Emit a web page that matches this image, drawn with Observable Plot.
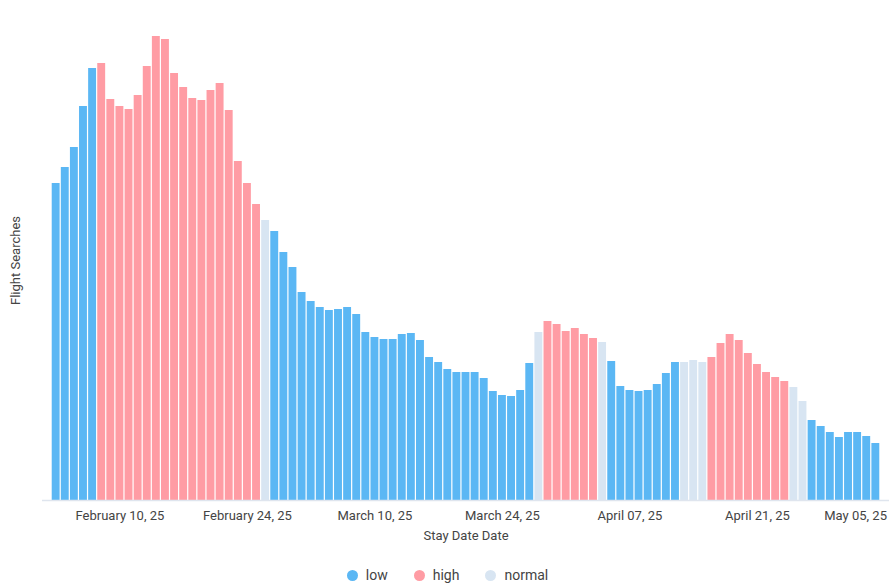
<!DOCTYPE html>
<html>
<head>
<meta charset="utf-8">
<script src="https://cdn.jsdelivr.net/npm/d3@7"></script>
<script src="https://cdn.jsdelivr.net/npm/@observablehq/plot@0.6"></script>
<style>
  html, body { margin: 0; padding: 0; background: #fff; }
  body { width: 889px; height: 586px; overflow: hidden; font-family: Roboto, "Noto Sans", sans-serif; }
  #legend { display: flex; justify-content: center; align-items: center; height: 30px; margin-top: 4px; padding-left: 6px;
            font-family: Roboto, sans-serif; font-size: 14px; color: #444; }
  #legend .item { display: flex; align-items: center; margin: 0 13px; }
  #legend .dot { width: 11px; height: 11px; border-radius: 50%; margin-right: 8px; }
</style>
</head>
<body>
<div id="chart"></div>
<div id="legend"></div>
<script>
// First stay date; one bar per consecutive day
const startDate = "2025-02-03";

// Flight searches per stay date (arbitrary units)
const searches = [
  317, 333, 353, 394, 432, 437, 401, 394, 391, 405,
  434, 464, 461, 427, 413, 402, 400, 410, 417, 390,
  339, 317, 296, 280, 269, 248, 233, 208, 199, 193,
  190, 191, 193, 186, 168, 163, 161, 161, 166, 167,
  160, 143, 138, 131, 128, 128, 128, 122, 109, 105,
  104, 110, 137, 168, 179, 176, 169, 172, 166, 162,
  158, 139, 114, 110, 109, 110, 116, 127, 138, 138,
  140, 138, 143, 157, 166, 160, 147, 136, 128, 123,
  119, 113, 99, 80, 74, 68, 63, 68, 68, 64,
  57
];

// Demand level per stay date
const levels = [
  "low","low","low","low","low",
  "high","high","high","high","high","high","high","high","high",
  "high","high","high","high","high","high","high","high","high",
  "normal",
  "low","low","low","low","low","low","low","low","low","low",
  "low","low","low","low","low","low","low","low","low","low",
  "low","low","low","low","low","low","low","low","low",
  "normal",
  "high","high","high","high","high","high",
  "normal",
  "low","low","low","low","low","low","low","low",
  "normal","normal","normal",
  "high","high","high","high","high","high","high","high","high",
  "normal","normal",
  "low","low","low","low","low","low","low","low"
];

const levelNames = ["low", "high", "normal"];
const levelColors = ["#5bb7f4", "#ff9ca4", "#d8e5f2"];

// Tick labels on the date axis
const tickDates = ["2025-02-10", "2025-02-24", "2025-03-10", "2025-03-24", "2025-04-07", "2025-04-21"];
const lastTickDate = ["2025-05-05"];

const start = d3.utcParse("%Y-%m-%d")(startDate);
const data = searches.map((v, i) => {
  const d = d3.utcDay.offset(start, i);
  return { x1: d, x2: d3.utcDay.offset(d, 1), value: v, level: levels[i] };
});
const noon = s => d3.utcHour.offset(d3.utcParse("%Y-%m-%d")(s), 12);
const fmt = d3.utcFormat("%B %d, %y");

const chart = Plot.plot({
  width: 889,
  height: 556,
  marginLeft: 42,
  marginRight: 0,
  marginTop: 20,
  marginBottom: 56,
  style: { fontFamily: "Roboto, sans-serif", fontSize: "13px", color: "#444", background: "#fff" },
  x: { type: "utc", domain: [d3.utcDay.offset(start, -1), d3.utcDay.offset(start, 92)], axis: null },
  y: { domain: [0, 480], axis: null },
  color: { domain: levelNames, range: levelColors },
  marks: [
    Plot.rectY(data, {
      x1: "x1", x2: "x2", y: "value", fill: "level",
      insetLeft: 0.6, insetRight: 0.6
    }),
    Plot.ruleY([0], { stroke: "#dfe5ee", strokeWidth: 1.5 }),
    Plot.axisX(tickDates.map(noon), {
      tickSize: 0, tickPadding: 10, tickFormat: fmt, label: null,
      fill: "#444", fontSize: 13
    }),
    Plot.axisX(lastTickDate.map(noon), {
      tickSize: 0, tickPadding: 10, tickFormat: fmt, label: null,
      textAnchor: "end", dx: 2, fill: "#444", fontSize: 13
    }),
    Plot.text(["Stay Date Date"], {
      frameAnchor: "bottom", dy: 39, fill: "#444", fontSize: 13
    }),
    Plot.text(["Flight Searches"], {
      frameAnchor: "left", textAnchor: "middle", rotate: -90, dx: -27, fill: "#444", fontSize: 13
    })
  ]
});
document.getElementById("chart").appendChild(chart);

const legend = document.getElementById("legend");
levelNames.forEach((name, i) => {
  const item = document.createElement("div");
  item.className = "item";
  const dot = document.createElement("span");
  dot.className = "dot";
  dot.style.background = levelColors[i];
  const label = document.createElement("span");
  label.textContent = name;
  item.appendChild(dot);
  item.appendChild(label);
  legend.appendChild(item);
});
</script>
</body>
</html>
